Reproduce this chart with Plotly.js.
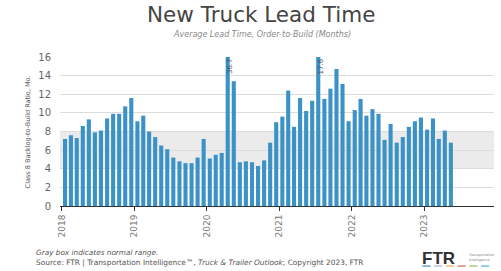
<!DOCTYPE html>
<html>
<head>
<meta charset="utf-8">
<script src="https://cdn.plot.ly/plotly-3.0.1.min.js"></script>
<style>html,body{margin:0;padding:0;background:#fff;}#chart{width:501px;height:271px;}</style>
</head>
<body>
<div id="chart"></div>
<script>
// Data (months, Jan..Dec)
const years = [2018, 2019, 2020, 2021, 2022, 2023];
const v2018 = [7.2, 7.6, 7.3, 8.6, 9.3, 7.9, 8.1, 9.4, 9.9, 9.9, 10.7, 11.6];
const v2019 = [9.1, 9.7, 8.0, 7.4, 6.5, 6.1, 5.2, 4.8, 4.6, 4.6, 5.2, 7.2];
const v2020 = [5.1, 5.5, 5.7, 36.7, 13.4, 4.7, 4.8, 4.7, 4.3, 4.9, 6.8, 9.0];
const v2021 = [9.6, 12.4, 8.5, 11.6, 10.2, 11.3, 17.6, 11.5, 12.6, 14.7, 13.1, 9.1];
const v2022 = [10.3, 11.5, 9.7, 10.4, 9.9, 7.1, 8.8, 6.8, 7.4, 8.5, 9.1, 9.5];
const v2023 = [8.2, 9.4, 7.2, 8.1, 6.8];
const yearValues = [v2018, v2019, v2020, v2021, v2022, v2023];
const tickYears = ['2018', '2019', '2020', '2021', '2022', '2023'];
const normalRange = [4, 8];
const yMax = 16;

const x = [], y = [];
years.forEach((yr, i) => {
  yearValues[i].forEach((v, m) => {
    x.push(yr + '-' + String(m + 1).padStart(2, '0') + '-01');
    y.push(v);
  });
});

const FONT = 'DejaVu Sans, Verdana, sans-serif';
const annotations = [];
x.forEach((d, i) => {
  if (y[i] > yMax) {
    annotations.push({
      x: d, xref: 'x', y: yMax - 1, yref: 'y', text: y[i].toFixed(1),
      textangle: -90, showarrow: false, xshift: 6,
      font: {family: FONT, size: 7, color: '#555'}
    });
  }
});

annotations.push(
  {xref: 'paper', yref: 'paper', x: 0.462, y: 1.282, xanchor: 'center', yanchor: 'middle',
   text: 'New Truck Lead Time', showarrow: false,
   font: {family: FONT, size: 21.5, color: '#444'}},
  {xref: 'paper', yref: 'paper', x: 0.465, y: 1.148, xanchor: 'center', yanchor: 'middle',
   text: '<i>Average Lead Time, Order-to-Build (Months)</i>', showarrow: false,
   font: {family: FONT, size: 8, color: '#888'}},
  {xref: 'paper', yref: 'paper', x: -0.074, y: 0.5, xanchor: 'center', yanchor: 'middle',
   text: 'Class 8 Backlog-to-Build Ratio, Mo.', textangle: -90, showarrow: false,
   font: {family: FONT, size: 6.5, color: '#555'}},
  {xref: 'paper', yref: 'paper', x: -0.06, y: -0.313, xanchor: 'left', yanchor: 'middle',
   text: '<i>Gray box indicates normal range.</i>', showarrow: false,
   font: {family: FONT, size: 7.3, color: '#555'}},
  {xref: 'paper', yref: 'paper', x: -0.06, y: -0.38, xanchor: 'left', yanchor: 'middle',
   text: 'Source: FTR | Transportation Intelligence™, <i>Truck &amp; Trailer Outlook</i>; Copyright 2023, FTR',
   showarrow: false, font: {family: FONT, size: 7.4, color: '#555'}},
  {xref: 'paper', yref: 'paper', x: 0.83, y: -0.349, xanchor: 'left', yanchor: 'middle',
   text: '<b>FTR</b>', showarrow: false, font: {family: 'Liberation Sans, Arial, sans-serif', size: 17, color: '#333'}},
  {xref: 'paper', yref: 'paper', x: 0.935, y: -0.345, xanchor: 'left', yanchor: 'middle',
   text: 'Transportation<br>Intelligence', showarrow: false, align: 'left',
   font: {family: FONT, size: 3.5, color: '#888'}}
);

const logoColors = ['#2a6fa8', '#9aa5ad', '#e8a23a', '#c8423b', '#7ab648', '#2a9fd6'];
const shapes = [{
  type: 'rect', xref: 'paper', x0: 0, x1: 1, yref: 'y', y0: normalRange[0], y1: normalRange[1],
  fillcolor: '#ebebeb', line: {width: 0}, layer: 'below'
}];
logoColors.forEach((c, i) => {
  shapes.push({type: 'line', xref: 'paper', yref: 'paper',
    x0: 0.835 + i * 0.027, x1: 0.835 + i * 0.027 + 0.019, y0: -0.403, y1: -0.403,
    line: {color: c, width: 1}});
});

const trace = {
  type: 'bar', x: x, y: y,
  xperiod: 'M1', xperiodalignment: 'middle',
  marker: {color: '#3a92c6', line: {width: 0}},
  hoverinfo: 'x+y', cliponaxis: true
};

const layout = {
  width: 501, height: 271,
  margin: {l: 60, r: 7, t: 57, b: 65},
  paper_bgcolor: '#fff', plot_bgcolor: '#fff',
  bargap: 0.3,
  showlegend: false,
  xaxis: {
    type: 'date', range: ['2017-12-22', '2023-12-20'],
    tickvals: tickYears.map(t => t + '-01-01'), ticktext: tickYears,
    tickangle: -90, ticks: 'outside', ticklen: 4, tickcolor: '#333',
    showline: true, linecolor: '#333', linewidth: 1, showgrid: false, zeroline: false,
    tickfont: {family: FONT, size: 9, color: '#777'}
  },
  yaxis: {
    range: [0, yMax], dtick: 2, showgrid: true, gridcolor: '#dcdcdc', gridwidth: 1,
    zeroline: false, showline: false, ticks: '', ticklabelstandoff: 8,
    tickfont: {family: FONT, size: 10, color: '#666'}
  },
  shapes: shapes,
  annotations: annotations
};

Plotly.newPlot('chart', [trace], layout, {displayModeBar: false, staticPlot: true});
</script>
</body>
</html>
